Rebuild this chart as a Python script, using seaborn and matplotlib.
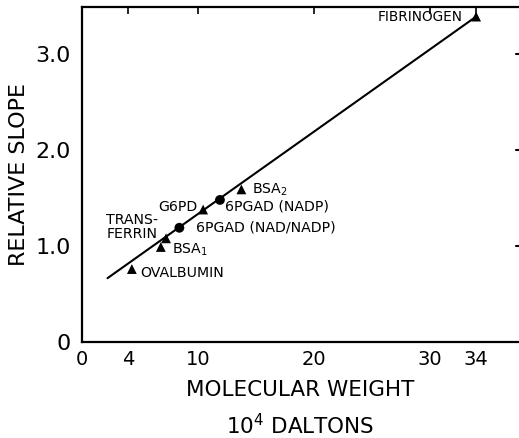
import matplotlib
matplotlib.use("Agg")
import matplotlib.pyplot as plt
import seaborn as sns
import pandas as pd

# Proteins: molecular weight (10^4 daltons) vs relative slope
proteins = ["OVALBUMIN", "BSA1", "TRANSFERRIN", "6PGAD (NAD/NADP)", "G6PD",
            "6PGAD (NADP)", "BSA2", "FIBRINOGEN"]
mol_weight = [4.3, 6.8, 7.25, 8.4, 10.45, 11.9, 13.75, 34.0]
rel_slope = [0.76, 0.99, 1.08, 1.19, 1.38, 1.48, 1.59, 3.39]
marker_kind = ["tri", "tri", "tri", "circ", "tri", "circ", "tri", "tri"]

# Fitted straight line
fit_x = [2.2, 34.0]
fit_y = [0.665, 3.39]

x_ticks = [0, 4, 10, 20, 30, 34]
y_ticks = [0, 1.0, 2.0, 3.0]
y_tick_labels = ["0", "1.0", "2.0", "3.0"]

df = pd.DataFrame({"mw": mol_weight, "slope": rel_slope, "kind": marker_kind,
                   "name": proteins})
fit_df = pd.DataFrame({"mw": fit_x, "slope": fit_y})

sns.set_style("white")
plt.rcParams["font.family"] = ["DejaVu Sans"]
plt.rcParams["text.color"] = "black"
plt.rcParams["axes.labelcolor"] = "black"
plt.rcParams["xtick.color"] = "black"
plt.rcParams["ytick.color"] = "black"

fig = plt.figure(figsize=(5.19, 4.38), dpi=100)
ax = fig.add_axes([82 / 519, 96 / 438, 1 - 82 / 519, 335 / 438])

sns.lineplot(data=fit_df, x="mw", y="slope", ax=ax, color="black", lw=1.5)
sns.scatterplot(data=df, x="mw", y="slope", style="kind",
                markers={"tri": "^", "circ": "o"}, s=50, color="black",
                edgecolor="black", linewidth=0, ax=ax, legend=False)

ax.set_xlim(0, 37.7)
ax.set_ylim(0, 3.49)
ax.set_xticks(x_ticks)
ax.set_xticklabels([str(t) for t in x_ticks], fontsize=14)
ax.set_yticks(y_ticks)
ax.set_yticklabels(y_tick_labels, fontsize=16)
ax.tick_params(axis="both", direction="in", length=5, width=1.2, color="black",
               top=True, labelcolor="black")
ax.tick_params(axis="x", pad=6)
ax.tick_params(axis="y", pad=8, right=False)

# Short inward marks along the right edge
for yv in y_ticks[1:]:
    ax.plot([37.45, 37.7], [yv, yv], color="black", lw=1.5, clip_on=False)

for side in ["left", "bottom", "top"]:
    ax.spines[side].set_linewidth(1.6)
    ax.spines[side].set_color("black")
ax.spines["right"].set_visible(False)

ax.set_xlabel("MOLECULAR WEIGHT\n10$^4$ DALTONS", fontsize=15.5,
              linespacing=1.6, labelpad=8, color="black")
ax.set_ylabel("RELATIVE SLOPE", fontsize=16, labelpad=5, color="black")

fs = 10.2
ax.text(32.8, 3.385, "FIBRINOGEN", fontsize=fs - 0.4, ha="right", va="center")
ax.text(14.65, 1.59, "BSA$_2$", fontsize=fs, ha="left", va="center")
ax.text(10.0, 1.41, "G6PD", fontsize=fs, ha="right", va="center")
ax.text(12.33, 1.41, "6PGAD (NADP)", fontsize=fs, ha="left", va="center")
ax.text(9.83, 1.19, "6PGAD (NAD/NADP)", fontsize=fs, ha="left", va="center")
ax.text(2.1, 1.27, "TRANS-", fontsize=fs, ha="left", va="center")
ax.text(2.1, 1.125, "FERRIN", fontsize=fs, ha="left", va="center")
ax.text(7.76, 0.96, "BSA$_1$", fontsize=fs, ha="left", va="center")
ax.text(5.0, 0.72, "OVALBUMIN", fontsize=fs, ha="left", va="center")

fig.savefig("out.png", dpi=100)
